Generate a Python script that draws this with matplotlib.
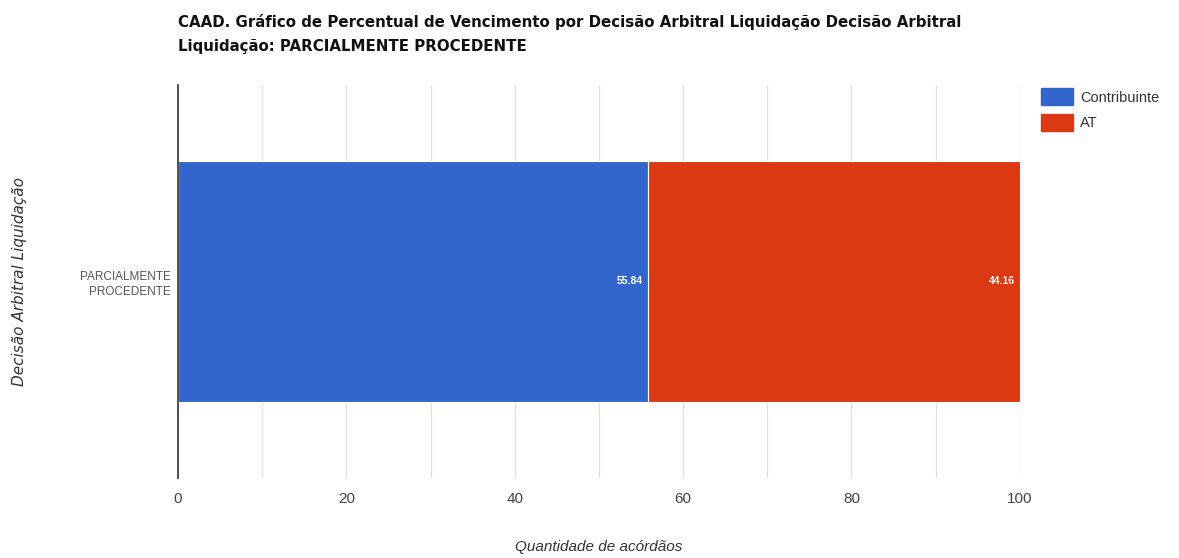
import matplotlib
matplotlib.use("Agg")
import matplotlib.pyplot as plt
from matplotlib.patches import Patch

categories = ["PARCIALMENTE\nPROCEDENTE"]
series_names = ["Contribuinte", "AT"]
contribuinte = [55.84]
at_values = [44.16]
colors = ["#3366CC", "#DC3912"]
xticks = [0, 20, 40, 60, 80, 100]

plt.rcParams["font.family"] = ["Liberation Sans", "DejaVu Sans"]

fig = plt.figure(figsize=(11.79, 5.58), dpi=100)
ax = fig.add_axes([0.151, 0.1434, 0.714, 0.7043])

ypos = list(range(len(categories)))
bar_h = 0.615
b1 = ax.barh(ypos, contribuinte, height=bar_h, color=colors[0], edgecolor="white", linewidth=0.8, zorder=3)
b2 = ax.barh(ypos, at_values, left=contribuinte, height=bar_h, color=colors[1], edgecolor="white", linewidth=0.8, zorder=3)

for rect, v in zip(b1, contribuinte):
    ax.text(rect.get_x() + rect.get_width() - 0.6, rect.get_y() + rect.get_height() / 2,
            f"{v:.2f}", ha="right", va="center", color="white", fontsize=7.5, fontweight="bold", zorder=4)
for rect, v in zip(b2, at_values):
    ax.text(rect.get_x() + rect.get_width() - 0.6, rect.get_y() + rect.get_height() / 2,
            f"{v:.2f}", ha="right", va="center", color="white", fontsize=7.5, fontweight="bold", zorder=4)

ax.set_xlim(0, 100)
ax.set_ylim(-0.5, len(categories) - 0.5)
ax.set_xticks(xticks)
ax.set_xticks(range(0, 101, 10), minor=True)
ax.set_yticks(ypos)
ax.set_yticklabels(categories, fontsize=8.5, color="#555555", ha="right", linespacing=1.3)
ax.tick_params(axis="y", length=0, pad=5)
ax.tick_params(axis="x", which="both", length=0, pad=10, labelsize=11, labelcolor="#444444")
ax.grid(axis="x", which="both", color="#e2e2e2", linewidth=1, zorder=0)

for side in ["top", "right", "bottom"]:
    ax.spines[side].set_visible(False)
ax.spines["left"].set_color("#333333")
ax.spines["left"].set_linewidth(1.2)
ax.spines["left"].set_zorder(5)

ax.set_xlabel("Quantidade de acórdãos", fontsize=11, style="italic", color="#333333")
ax.xaxis.set_label_coords(0.5, -0.158)
ax.set_ylabel("Decisão Arbitral Liquidação", fontsize=11, style="italic", color="#333333",
              family=["DejaVu Sans"])
ax.yaxis.set_label_coords(-0.179, 0.5)

fig.text(0.151, 0.975, "CAAD. Gráfico de Percentual de Vencimento por Decisão Arbitral Liquidação Decisão Arbitral\nLiquidação: PARCIALMENTE PROCEDENTE",
         ha="left", va="top", fontsize=10.8, fontweight="bold", color="#111111", linespacing=1.75,
         family=["DejaVu Sans"])

handles = [Patch(facecolor=c, edgecolor=c) for c in colors]
fig.legend(handles, series_names, loc="upper left", bbox_to_anchor=(0.872, 0.865),
           frameon=False, fontsize=10.5, handlelength=2.2, handleheight=1.4,
           handletextpad=0.45, labelspacing=0.6, labelcolor="#333333")

fig.savefig("out.png", dpi=100)
